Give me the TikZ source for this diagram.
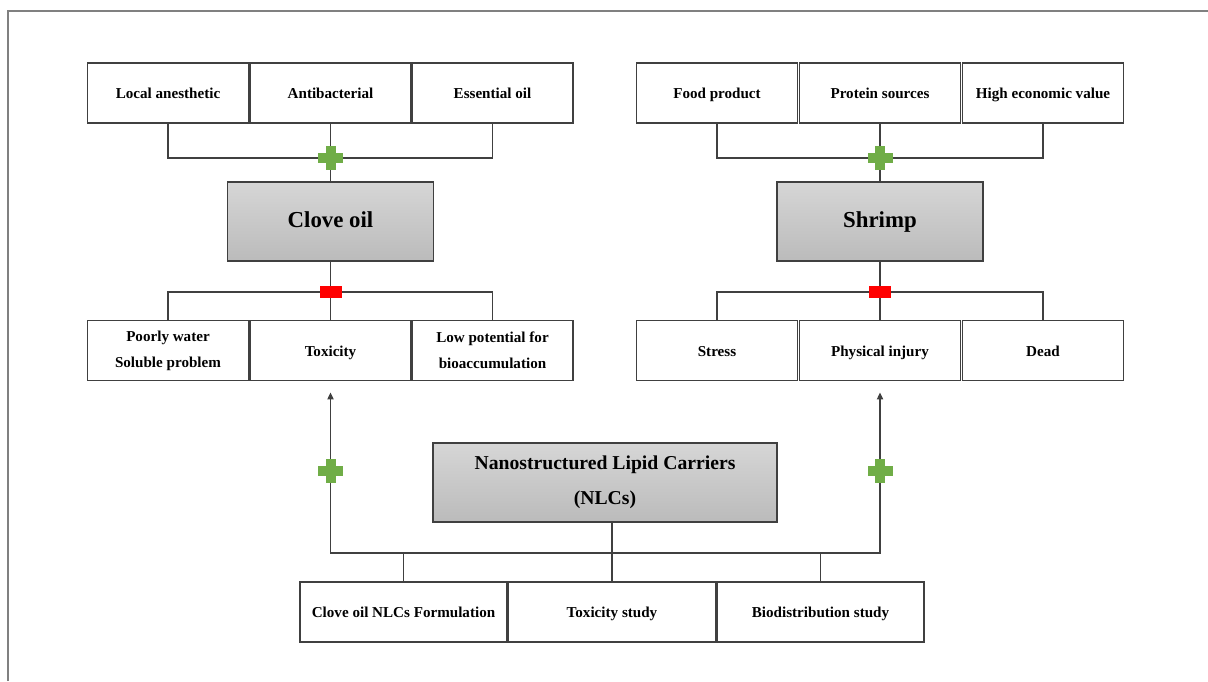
\documentclass[tikz,border=0pt]{standalone}
\usepackage{fontspec}
\setmainfont{Liberation Serif}
\usetikzlibrary{arrows.meta, positioning, calc}
\definecolor{c1}{HTML}{404040}
\definecolor{c2}{HTML}{808080}
\definecolor{plusgreen}{HTML}{70AD47}
\definecolor{minusred}{HTML}{FF0000}
\definecolor{boxtop}{HTML}{D6D6D6}
\definecolor{boxbot}{HTML}{BBBBBB}

\begin{document}
\begin{tikzpicture}[
    x=0.02cm, y=-0.02cm,
    every node/.style={font=\bfseries},
    item/.style={
        rectangle, draw=c1, fill=white, line width=1.1pt,
        minimum width=3.22cm, minimum height=1.2cm, inner sep=0pt,
        align=center, font=\bfseries\fontsize{8.6}{14.7}\selectfont,
        text height=0.86em, text depth=0.2em,
    },
    twoline/.style={text height={}, text depth={}},
    study/.style={item, minimum width=4.14cm},
    hub/.style={
        rectangle, draw=c1, line width=1.1pt, top color=boxtop, bottom color=boxbot,
        minimum width=4.12cm, minimum height=1.58cm, inner sep=0pt, align=center,
        font=\bfseries\fontsize{13}{16}\selectfont,
        text height=0.86em, text depth=0.2em,
    },
    link/.style={c1, line width=1pt},
    arr/.style={-{Triangle[length=4pt, width=3.5pt]}},
    hbar/.style={rectangle, fill=plusgreen, minimum width=0.5cm, minimum height=0.2cm, inner sep=0pt},
    vbar/.style={rectangle, fill=plusgreen, minimum width=0.2cm, minimum height=0.48cm, inner sep=0pt},
    minus/.style={rectangle, fill=minusred, minimum width=0.44cm, minimum height=0.24cm, inner sep=0pt},
]
\useasboundingbox (0,0) rectangle (1208,681);

% frame
\draw[c2, line width=1.2pt] (8,681) -- (8,11) -- (1208,11);

% ---------------------------------------------------------------- clove oil
\node[item] (anes) at (168,93) {Local anesthetic};
\node[item] (anti) at (330.5,93) {Antibacterial};
\node[item] (ess) at (492.5,93) {Essential oil};

\node[hub] (clove) at (330.5,221.5) {Clove oil};

\node[item, twoline] (poor) at (168,350.5) {Poorly water\\Soluble problem};
\node[item] (tox) at (330.5,350.5) {Toxicity};
\node[item, twoline] (bioacc) at (492.5,350.5) {Low potential for\\bioaccumulation};

% ---------------------------------------------------------------- shrimp
\node[item] (food) at (717,93) {Food product};
\node[item] (prot) at (880,93) {Protein sources};
\node[item] (econ) at (1043,93) {High economic value};

\node[hub] (shrimp) at (880,221.5) {Shrimp};

\node[item] (stress) at (717,350.5) {Stress};
\node[item] (injury) at (880,350.5) {Physical injury};
\node[item] (dead) at (1043,350.5) {Dead};

% ---------------------------------------------------------------- NLCs
\node[hub, twoline, minimum width=6.88cm, font=\bfseries\fontsize{11.2}{20}\selectfont] (nlc) at (605,482.5)
    {Nanostructured Lipid Carriers\\(NLCs)};

\node[study] (form) at (403.5,612) {Clove oil NLCs Formulation};
\node[study] (toxs) at (612,612) {Toxicity study};
\node[study] (bio) at (820.5,612) {Biodistribution study};

% ---------------------------------------------------------------- connectors
\coordinate (jA) at (330.5,158);
\coordinate (jB) at (880,158);
\coordinate (kA) at (330.5,292);
\coordinate (kB) at (880,292);
\coordinate (bus) at (612,553);

\draw[link] (anes.south) |- (jA) -| (ess.south);
\draw[link] (anti.south) -- (clove.north);
\draw[link] (food.south) |- (jB) -| (econ.south);
\draw[link] (prot.south) -- (shrimp.north);

\draw[link] (poor.north) |- (kA) -| (bioacc.north);
\draw[link] (clove.south) -- (tox.north);
\draw[link] (stress.north) |- (kB) -| (dead.north);
\draw[link] (shrimp.south) -- (injury.north);

\draw[link, arr] (bus) -| ([yshift=-0.22cm]tox.south);
\draw[link, arr] (bus) -| ([yshift=-0.22cm]injury.south);
\draw[link] (nlc.south -| toxs.north) -- (toxs.north);
\draw[link] (form.north |- bus) -- (form.north);
\draw[link] (bio.north |- bus) -- (bio.north);

% plus and minus marks
\foreach \n/\p in {addA/jA, addB/jB, addC/{330.5,471}, addD/{880,471}}{
    \node[hbar] at (\p) {};
    \node[vbar] (\n) at (\p) {};
}
\node[minus] (subA) at (kA) {};
\node[minus] (subB) at (kB) {};

\end{tikzpicture}
\end{document}
